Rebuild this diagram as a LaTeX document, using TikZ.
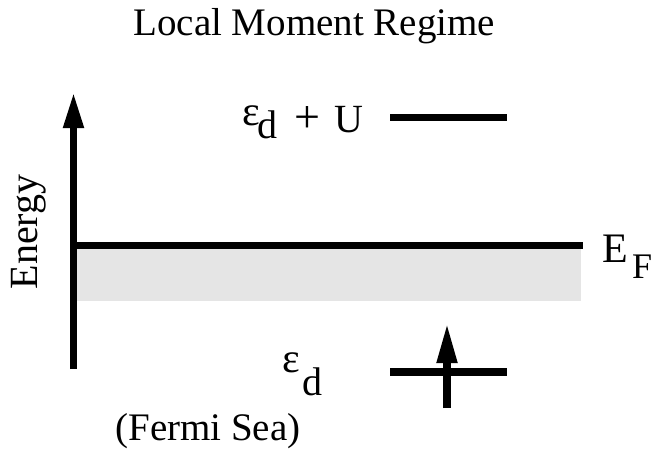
\documentclass[tikz,border=0pt]{standalone}
\usepackage{fontspec}
\setmainfont{Liberation Serif}
\usetikzlibrary{arrows.meta,positioning}
\definecolor{seagray}{HTML}{E5E5E5}
\newcommand{\epsbig}{{\fontsize{21}{24}\selectfont ε}}
\newcommand{\plusbig}{{\fontsize{23}{26}\selectfont +}}
\tikzset{
  levelline/.style={line width=3.75pt},
  energyaxis/.style={line width=3.75pt, -{Triangle[length=18pt,width=9.5pt]}},
  spinarrow/.style={line width=3.75pt, -{Triangle[length=20pt,width=9.5pt]}},
  seafill/.style={fill=seagray, draw=none},
  lbl/.style={inner sep=0pt, anchor=base west, font=\fontsize{20}{23}\selectfont},
  titletext/.style={inner sep=0pt, anchor=base west, font=\fontsize{19.5}{23}\selectfont}
}

\begin{document}
\begin{tikzpicture}[x=0.5pt,y=-0.5pt]
  \useasboundingbox (0,0) rectangle (653,452);
  \coordinate (axisbot) at (73.5,369);
  \coordinate (axistop) at (73.5,92);
  \coordinate (efleft) at (73.5,245.5);
  \coordinate (efright) at (583,245.5);
  \coordinate (upleft) at (390,117.5);
  \coordinate (upright) at (507,117.5);
  \coordinate (lowleft) at (390,372);
  \coordinate (lowright) at (507,372);
  \coordinate (spinbot) at (447,408);
  \coordinate (spintop) at (447,323);
  \fill[seafill] (75,248) rectangle (581,301);
  \draw[levelline] (efleft) -- (efright);
  \draw[energyaxis] (axisbot) -- (axistop);
  \draw[levelline] (upleft) -- (upright);
  \draw[levelline] (lowleft) -- (lowright);
  \draw[spinarrow] (spinbot) -- (spintop);
  \node[titletext] (title) at (133,35) {Local Moment Regime};
  \node[lbl, anchor=base, rotate=90] (energy) at (38,232) {Energy};
  \node[titletext, font=\fontsize{21}{24}\selectfont] (ef) at (602,262)
    {E\hspace{2pt}\raisebox{-8pt}{\fontsize{18}{20}\selectfont F}};
  \node[lbl] (edu) at (242,132)
    {\makebox[7.5pt][l]{\raisebox{3.5pt}{\epsbig}}\makebox[18.5pt][l]{\raisebox{-3pt}{d}}\plusbig\hspace{7pt}U};
  \node[lbl] (ed) at (282,372) {\makebox[10pt][l]{\epsbig}\raisebox{-11.5pt}{d}};
  \node[lbl, font=\fontsize{19.5}{22}\selectfont] (sea) at (115,440) {(Fermi Sea)};
\end{tikzpicture}
\end{document}
